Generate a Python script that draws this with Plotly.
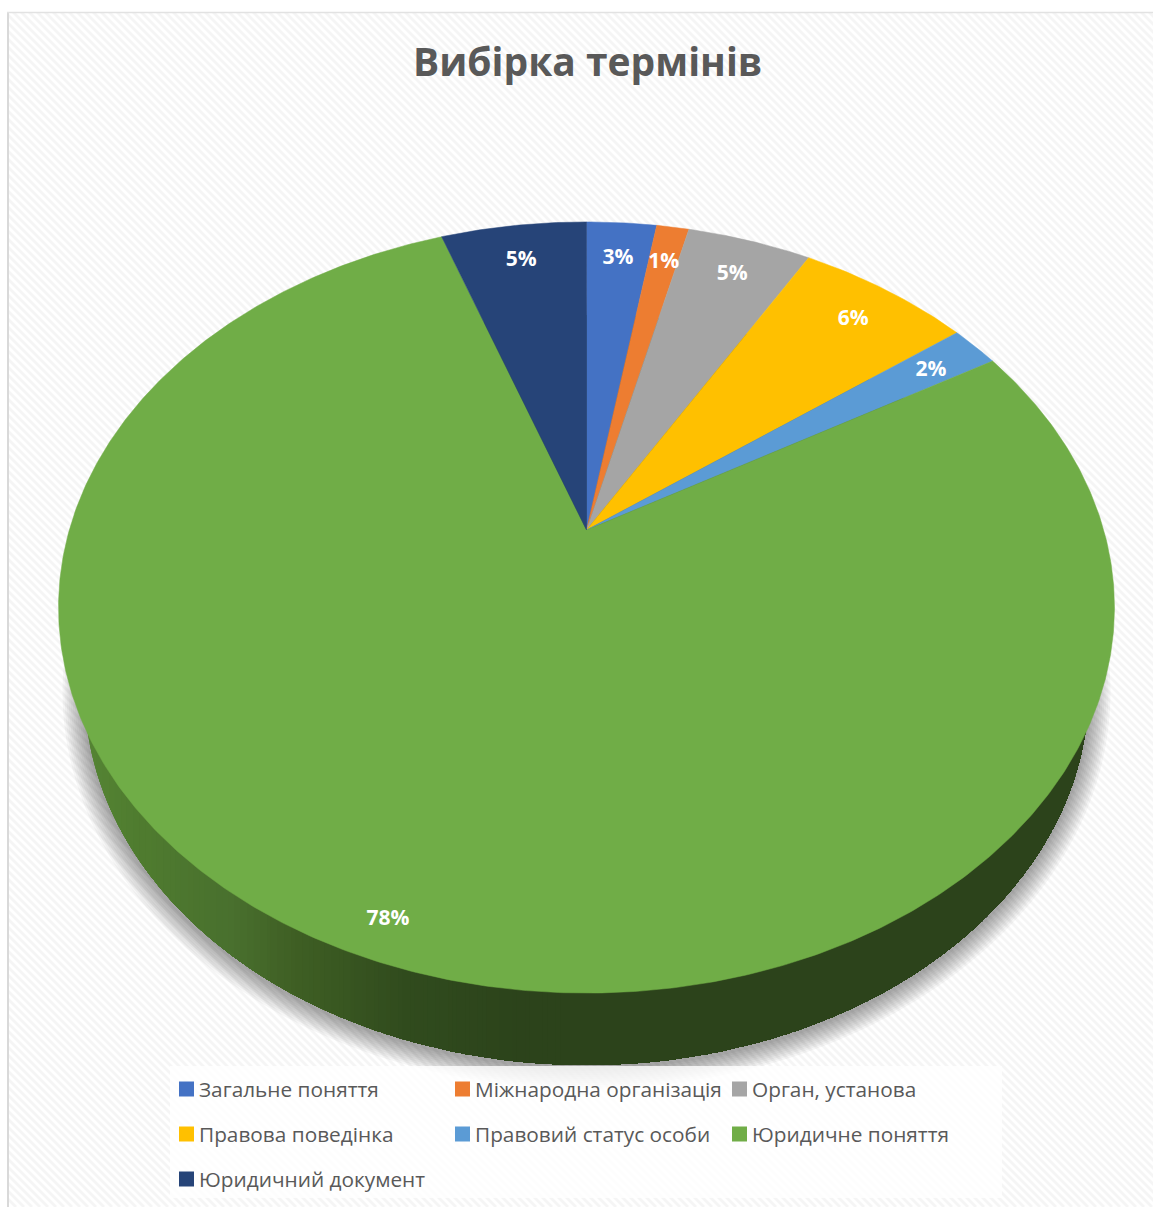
import numpy as np
import plotly.graph_objects as go

# Series of the pie chart
categories = ["Загальне поняття", "Міжнародна організація", "Орган, установа",
              "Правова поведінка", "Правовий статус особи", "Юридичне поняття",
              "Юридичний документ"]
shares = [2.6, 1.2, 4.6, 6.4, 1.8, 77.9, 5.4]
colors = ["#4472C4", "#ED7D31", "#A5A5A5", "#FFC000", "#5B9BD5", "#70AD47", "#264478"]
chart_title = "Вибірка термінів"

W, H = 1153, 1207

# Perspective disc: the hub sits above the centre of the projected ellipse
HUB_X, HUB_Y = 586.5, 530.0
F, G, K = 517.2, 370.0, 0.201


def project(theta, r=1.0):
    """Map a clockwise-from-top angle and radius on the disc to plot coordinates."""
    u, v = r * np.sin(theta), r * np.cos(theta)
    w = 1 + K * v
    return HUB_X + F * u / w, HUB_Y - G * v / w


def ellipse_pts(cx, cy, a, b, n=360):
    t = np.linspace(0, 2 * np.pi, n, endpoint=False)
    return cx + a * np.cos(t), cy + b * np.sin(t)


def poly_path(xs, ys):
    return "M" + "L".join(f"{x:.1f},{y:.1f}" for x, y in zip(xs, ys)) + "Z"


shapes = []

# Diagonal hatch of the chart area
HATCH_STEP = 8
hatch = "".join(f"M{s},0L{s + H},{H}" for s in range(-H, W + 1, HATCH_STEP))
shapes.append(dict(type="path", path=hatch, xref="x", yref="y", layer="below",
                   line=dict(color="#f5f5f5", width=2.8)))

# Page margin outside the frame and the frame lines
for x0, y0, x1, y1 in [(0, 0, 7, H), (0, 0, W, 12)]:
    shapes.append(dict(type="rect", x0=x0, y0=y0, x1=x1, y1=y1, xref="x", yref="y", layer="below",
                       fillcolor="white", line=dict(width=0)))
shapes.append(dict(type="line", x0=8, x1=8, y0=12, y1=H, xref="x", yref="y", layer="below",
                   line=dict(color="#d9d9d9", width=2)))
shapes.append(dict(type="line", x0=7, x1=W, y0=12.5, y1=12.5, xref="x", yref="y", layer="below",
                   line=dict(color="#e2e2e2", width=1.5)))

# Lower rim of the disc
RIM_CX, RIM_A, RIM_B = 586.5, 502.0, 375.0
RIM_CY = 1065 - RIM_B

# Soft shadow: stacked translucent ellipses around the lower rim
for grow in np.arange(22, 0, -2):
    xs, ys = ellipse_pts(RIM_CX, RIM_CY + 2, RIM_A + grow, RIM_B + grow)
    shapes.append(dict(type="path", path=poly_path(xs, ys), xref="x", yref="y", layer="below",
                       fillcolor="rgba(0,0,0,0.036)", line=dict(width=0)))

# Side wall with a horizontal shade, painted left to right
stops_x = [85, 130, 230, 290, 400, 520, 1100]
stops_c = np.array([[0x55, 0x84, 0x34], [0x50, 0x7d, 0x30], [0x49, 0x70, 0x2e],
                    [0x3f, 0x5f, 0x24], [0x31, 0x4c, 0x1e], [0x2c, 0x43, 0x1b], [0x2c, 0x43, 0x1b]])
rim_x, rim_y = ellipse_pts(RIM_CX, RIM_CY, RIM_A, RIM_B, 720)
for x_left in np.arange(78, 560, 6):
    rgb = [int(np.interp(x_left, stops_x, stops_c[:, i])) for i in range(3)]
    keep = rim_x >= x_left
    order = np.argsort(np.arctan2(rim_y[keep] - RIM_CY, rim_x[keep] - RIM_CX))
    shapes.append(dict(type="path", path=poly_path(rim_x[keep][order], rim_y[keep][order]),
                       xref="x", yref="y", layer="below",
                       fillcolor=f"rgb({rgb[0]},{rgb[1]},{rgb[2]})", line=dict(width=0)))

# Translucent legend panel
shapes.append(dict(type="rect", x0=170, x1=1002, y0=1066, y1=1198, xref="x", yref="y", layer="below",
                   fillcolor="rgba(255,255,255,0.8)", line=dict(width=0)))

fig = go.Figure()

# Slices of the top face, swept from the shares
total = sum(shares)
edges = np.cumsum([0] + shares) / total * 2 * np.pi
for name, color, a0, a1 in zip(categories, colors, edges[:-1], edges[1:]):
    theta = np.linspace(a0, a1, max(int((a1 - a0) * 120), 8))
    ex, ey = project(theta)
    fig.add_trace(go.Scatter(x=[HUB_X, *ex, HUB_X], y=[HUB_Y, *ey, HUB_Y], name=name,
                             mode="lines", fill="toself", fillcolor=color,
                             line=dict(color=color, width=0.5), hoverinfo="name"))

# Percentage labels placed along each slice's middle angle
mid = (edges[:-1] + edges[1:]) / 2
lx, ly = zip(*[project(m, 0.92 if s > 50 else 0.875) for m, s in zip(mid, shares)])
fig.add_trace(go.Scatter(x=lx, y=[y + 3 for y in ly], mode="text",
                         text=[f"{round(s / total * 100)}%" for s in shares],
                         textposition="middle center", hoverinfo="skip",
                         textfont=dict(family="Open Sans", size=21, color="white", weight="bold")))

# Legend laid out as a three-column grid
col_x = [186.5, 462.5, 739.5]
row_y = [1089, 1134, 1179]
leg_x = [col_x[i % 3] for i in range(len(categories))]
leg_y = [row_y[i // 3] for i in range(len(categories))]
fig.add_trace(go.Scatter(x=leg_x, y=leg_y, mode="markers", hoverinfo="skip",
                         marker=dict(symbol="square", size=15, color=colors, line=dict(width=0))))
fig.add_trace(go.Scatter(x=[x + 12.5 for x in leg_x], y=[y + 3 for y in leg_y], mode="text",
                         text=categories, textposition="middle right", hoverinfo="skip",
                         textfont=dict(family="Open Sans", size=20.8, color="#595959")))

fig.update_layout(
    width=W, height=H, margin=dict(l=0, r=0, t=0, b=0), showlegend=False,
    paper_bgcolor="white", plot_bgcolor="white", shapes=shapes,
    xaxis=dict(range=[0, W], visible=False, domain=[0, 1], fixedrange=True),
    yaxis=dict(range=[H, 0], visible=False, domain=[0, 1], fixedrange=True),
    annotations=[dict(text=f"<b>{chart_title}</b>", x=587, y=60, xref="x", yref="y",
                      showarrow=False, xanchor="center", yanchor="middle",
                      font=dict(family="Open Sans", size=39, color="#595959"))],
)

fig.write_html("out.html", config=dict(displayModeBar=False))
